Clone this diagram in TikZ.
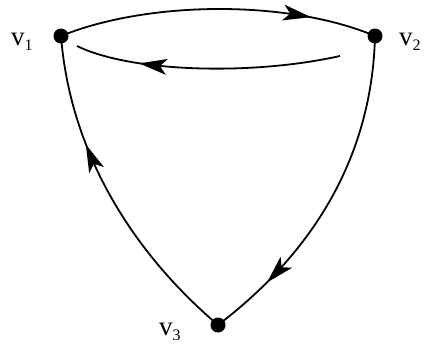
\documentclass[tikz,border=0pt]{standalone}
\usepackage{fontspec}
\setmainfont{Liberation Serif}
\usetikzlibrary{decorations.markings}
\tikzset{
  vert/.style={circle,fill=black,inner sep=0pt,minimum size=15pt},
  edge/.style={line width=1.8pt},
  lbl/.style={inner sep=0pt,anchor=base west,font=\fontsize{27}{27}\selectfont},
  midarrow/.style={postaction={decorate,decoration={markings,
      mark=at position #1 with {\fill (10pt,0pt) -- (-18pt,8pt) -- (-11pt,0pt) -- (-18pt,-8pt) -- cycle;}}}}
}
\newcommand{\vlab}[1]{v\raisebox{-5pt}{\fontsize{16}{16}\selectfont #1}}
\begin{document}
\begin{tikzpicture}[x=1pt,y=-1pt]
\useasboundingbox (0,0) rectangle (425,343);
\node[vert] (v1) at (61,36) {};
\node[vert] (v2) at (375,36) {};
\node[vert] (v3) at (218,325) {};
\coordinate (lowR) at (340,56);
\coordinate (lowL) at (77,46);
\node[lbl] (l1) at (11,45) {\vlab{1}};
\node[lbl] (l2) at (399,45) {\vlab{2}};
\node[lbl] (l3) at (159,335) {\vlab{3}};
% top edge v1 -> v2
\draw[edge,midarrow=0.76] (v1.center) .. controls (150,0) and (290,0) .. (v2.center);
% lower edge v2 -> v1
\draw[edge,midarrow=0.72] (lowR) .. controls (250,76) and (130,72) .. (lowL);
% left edge v3 -> v1
\draw[edge,midarrow=0.64] (v3.center) .. controls (130,250) and (70,150) .. (v1.center);
% right edge v2 -> v3
\draw[edge,midarrow=0.78] (v2.center) .. controls (372,160) and (310,255) .. (v3.center);
\end{tikzpicture}
\end{document}
